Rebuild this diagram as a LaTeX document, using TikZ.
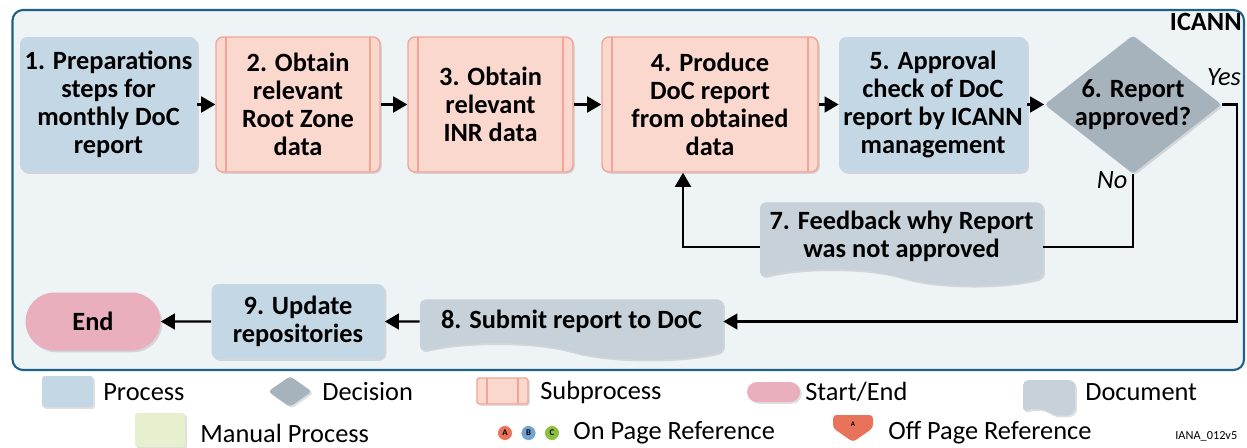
\documentclass[tikz,border=0pt]{standalone}
\usepackage{fontspec}
\setmainfont{Carlito}
\usetikzlibrary{shapes.geometric,shapes.misc,shapes.symbols,arrows.meta,shadows}

\definecolor{procblue}{HTML}{C4D7E4}
\definecolor{subfill}{HTML}{FBD8CE}
\definecolor{subedge}{HTML}{F0A595}
\definecolor{decgray}{HTML}{A6B3BD}
\definecolor{docgray}{HTML}{C7D1D9}
\definecolor{endpink}{HTML}{E9AFBD}
\definecolor{manual}{HTML}{E8EFCF}
\definecolor{framefill}{HTML}{EEF3F6}
\definecolor{frameedge}{HTML}{1D6184}
\definecolor{refred}{HTML}{E8735A}
\definecolor{refblue}{HTML}{72A2CF}
\definecolor{refgreen}{HTML}{8DBF3F}

\tikzset{
  box/.style={rounded corners=4pt, inner sep=0pt, align=center,
    font=\fontsize{15}{16}\selectfont\bfseries, minimum height=2.7cm,
    drop shadow={opacity=.25,shadow xshift=1pt,shadow yshift=-1pt}},
  proc/.style={box, fill=procblue},
  subproc/.style={box, fill=subfill, draw=subedge, line width=.8pt,
    path picture={\draw[subedge, line width=.8pt]
      ([xshift=.2cm]path picture bounding box.north west) -- ([xshift=.2cm]path picture bounding box.south west)
      ([xshift=-.2cm]path picture bounding box.north east) -- ([xshift=-.2cm]path picture bounding box.south east);}},
  decision/.style={box, diamond, rounded corners=2pt, fill=decgray, inner sep=-4pt},
  docbox/.style={box, tape, tape bend top=none, tape bend bottom=out and in,
    tape bend height=9pt, rounded corners=3pt, fill=docgray},
  terminal/.style={box, rounded rectangle, sharp corners, fill=endpink},
  arr/.style={line width=1.3pt, -{Triangle[length=8pt,width=9pt]}},
  ln/.style={line width=1.3pt},
  legtext/.style={anchor=west, inner sep=0pt, font=\fontsize{15}{16}\selectfont},
  refdot/.style={circle, inner sep=0pt, minimum size=.3cm, draw=white, line width=.4pt,
    font=\fontsize{5}{5}\selectfont\bfseries}
}

\begin{document}
\begin{tikzpicture}
\useasboundingbox (0,0) rectangle (24.94,-8.94);
% container
\draw[frameedge, fill=framefill, line width=1.2pt, rounded corners=6pt] (.25,-.2) rectangle (24.88,-7.4);
\node[anchor=east, inner sep=0pt, font=\fontsize{15}{16}\selectfont\bfseries] (icann) at (24.84,-.43) {ICANN};

% top row
\node[proc, minimum width=3.54cm] (n1) at (2.17,-2.09) {1. Preparations\\steps for\\monthly DoC\\report};
\node[subproc, minimum width=3.28cm] (n2) at (5.96,-2.09) {2. Obtain\\relevant\\Root Zone\\data};
\node[subproc, minimum width=3.3cm] (n3) at (9.81,-2.09) {3. Obtain\\relevant\\INR data};
\node[subproc, minimum width=4.32cm] (n4) at (14.2,-2.09) {4. Produce\\DoC report\\from obtained\\data};
\node[proc, minimum width=3.76cm] (n5) at (18.66,-2.09) {5. Approval\\check of DoC\\report by ICANN\\management};
\node[decision, minimum width=3.54cm, minimum height=2.5cm] (n6) at (22.66,-2.09) {6. Report\\approved?};

% feedback and lower row
\node[docbox, minimum width=5.66cm, minimum height=1.66cm] (n7) at (18.03,-4.72) {7. Feedback why Report\\was not approved};
\node[docbox, minimum width=6.06cm, minimum height=1.2cm] (n8) at (11.43,-6.43) {8. Submit report to DoC};
\node[proc, minimum width=3.46cm, minimum height=1.5cm] (n9) at (5.96,-6.43) {9. Update\\repositories};
\node[terminal, minimum width=2.7cm, minimum height=1.16cm] (end) at (1.86,-6.43) {End};

\draw[arr] (n1) -- (n2);
\draw[arr] (n2) -- (n3);
\draw[arr] (n3) -- (n4);
\draw[arr] (n4) -- (n5);
\draw[arr] (n5) -- (n6);
\draw[arr] (n6.east) -- ++(.3,0) |- (n8.east);
\draw[ln] (n6.south) |- ([yshift=-.22cm]n7.east);
\draw[arr] ([yshift=-.22cm]n7.west) -| ([xshift=-.54cm]n4.south);
\draw[arr] (n8) -- (n9);
\draw[arr] (n9) -- (end);
\node[inner sep=0pt, font=\fontsize{15}{16}\selectfont\itshape] (yes) at (24.48,-1.54) {Yes};
\node[inner sep=0pt, font=\fontsize{15}{16}\selectfont\itshape] (no) at (22.24,-3.6) {No};

% legend
\node[proc, minimum width=1.02cm, minimum height=.62cm, rounded corners=1pt] (sproc) at (1.35,-7.83) {};
\node[legtext] (lproc) at (2.06,-7.84) {Process};
\node[decision, minimum width=.88cm, minimum height=.62cm, inner sep=0pt] (sdec) at (5.8,-7.83) {};
\node[legtext] (ldec) at (6.44,-7.84) {Decision};
\node[subproc, minimum width=1.02cm, minimum height=.52cm, rounded corners=1pt] (ssub) at (10.05,-7.82) {};
\node[legtext] (lsub) at (10.8,-7.84) {Subprocess};
\node[terminal, minimum width=1.06cm, minimum height=.4cm] (send) at (15.47,-7.84) {};
\node[legtext] (lend) at (16.1,-7.84) {Start/End};
\node[docbox, minimum width=1.04cm, minimum height=.7cm, tape bend height=3pt] (sdoc) at (20.98,-7.9) {};
\node[legtext] (ldoc) at (21.7,-7.84) {Document};
\node[box, fill=manual, minimum width=1cm, minimum height=.68cm, rounded corners=1pt] (sman) at (3.2,-8.6) {};
\node[legtext] (lman) at (4,-8.66) {Manual Process};
\node[refdot, fill=refred] (ra) at (10.1,-8.66) {A};
\node[refdot, fill=refblue] (rb) at (10.57,-8.66) {B};
\node[refdot, fill=refgreen] (rc) at (11.04,-8.66) {C};
\node[legtext] (lon) at (11.46,-8.66) {On Page Reference};
\fill[refred, rounded corners=2pt] (16.66,-8.3) -- (17.46,-8.3) -- (17.46,-8.56) -- (17.06,-8.84) -- (16.66,-8.56) -- cycle;
\node[inner sep=0pt, font=\fontsize{4}{4}\selectfont\bfseries] (roff) at (17.06,-8.48) {A};
\node[legtext] (loff) at (17.76,-8.66) {Off Page Reference};
\node[anchor=west, inner sep=0pt, font=\fontsize{7}{8}\selectfont] (ver) at (23.5,-8.72) {IANA\_012v5};
\end{tikzpicture}
\end{document}
